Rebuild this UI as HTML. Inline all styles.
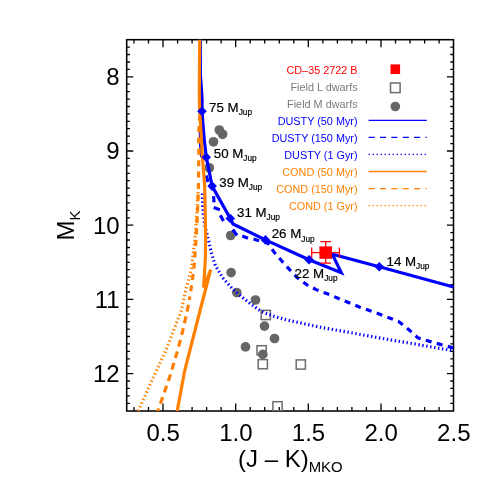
<!DOCTYPE html>
<html lang="en"><head><meta charset="utf-8"><title>CD-35 2722 B color-magnitude diagram</title>
<style>html,body{margin:0;padding:0;background:#fff}body{width:491px;height:491px;overflow:hidden}svg{display:block}text{font-family:"Liberation Sans",Arial,Helvetica,sans-serif}</style></head><body>
<svg width="491" height="491" viewBox="0 0 491 491">
<rect width="491" height="491" fill="#fff"/>
<defs><clipPath id="c"><rect x="126.7" y="39.7" width="326.8" height="371.3"/></clipPath></defs>
<g stroke="#000" fill="none">
<rect x="126.7" y="39.7" width="326.8" height="371.3" stroke-width="1.55"/>
<path d="M134.0 411.0 v-3.9 M134.0 39.7 v3.9 M148.5 411.0 v-3.9 M148.5 39.7 v3.9 M163.0 411.0 v-7.6 M163.0 39.7 v7.6 M177.6 411.0 v-3.9 M177.6 39.7 v3.9 M192.1 411.0 v-3.9 M192.1 39.7 v3.9 M206.6 411.0 v-3.9 M206.6 39.7 v3.9 M221.1 411.0 v-3.9 M221.1 39.7 v3.9 M235.7 411.0 v-7.6 M235.7 39.7 v7.6 M250.2 411.0 v-3.9 M250.2 39.7 v3.9 M264.7 411.0 v-3.9 M264.7 39.7 v3.9 M279.3 411.0 v-3.9 M279.3 39.7 v3.9 M293.8 411.0 v-3.9 M293.8 39.7 v3.9 M308.3 411.0 v-7.6 M308.3 39.7 v7.6 M322.9 411.0 v-3.9 M322.9 39.7 v3.9 M337.4 411.0 v-3.9 M337.4 39.7 v3.9 M351.9 411.0 v-3.9 M351.9 39.7 v3.9 M366.4 411.0 v-3.9 M366.4 39.7 v3.9 M381.0 411.0 v-7.6 M381.0 39.7 v7.6 M395.5 411.0 v-3.9 M395.5 39.7 v3.9 M410.0 411.0 v-3.9 M410.0 39.7 v3.9 M424.6 411.0 v-3.9 M424.6 39.7 v3.9 M439.1 411.0 v-3.9 M439.1 39.7 v3.9 M126.7 47.1 h3.2 M453.5 47.1 h-3.2 M126.7 54.5 h3.2 M453.5 54.5 h-3.2 M126.7 62.0 h3.2 M453.5 62.0 h-3.2 M126.7 69.4 h3.2 M453.5 69.4 h-3.2 M126.7 76.8 h6.6 M453.5 76.8 h-6.6 M126.7 84.2 h3.2 M453.5 84.2 h-3.2 M126.7 91.6 h3.2 M453.5 91.6 h-3.2 M126.7 99.1 h3.2 M453.5 99.1 h-3.2 M126.7 106.5 h3.2 M453.5 106.5 h-3.2 M126.7 113.9 h3.2 M453.5 113.9 h-3.2 M126.7 121.3 h3.2 M453.5 121.3 h-3.2 M126.7 128.7 h3.2 M453.5 128.7 h-3.2 M126.7 136.2 h3.2 M453.5 136.2 h-3.2 M126.7 143.6 h3.2 M453.5 143.6 h-3.2 M126.7 151.0 h6.6 M453.5 151.0 h-6.6 M126.7 158.4 h3.2 M453.5 158.4 h-3.2 M126.7 165.8 h3.2 M453.5 165.8 h-3.2 M126.7 173.3 h3.2 M453.5 173.3 h-3.2 M126.7 180.7 h3.2 M453.5 180.7 h-3.2 M126.7 188.1 h3.2 M453.5 188.1 h-3.2 M126.7 195.5 h3.2 M453.5 195.5 h-3.2 M126.7 202.9 h3.2 M453.5 202.9 h-3.2 M126.7 210.4 h3.2 M453.5 210.4 h-3.2 M126.7 217.8 h3.2 M453.5 217.8 h-3.2 M126.7 225.2 h6.6 M453.5 225.2 h-6.6 M126.7 232.6 h3.2 M453.5 232.6 h-3.2 M126.7 240.0 h3.2 M453.5 240.0 h-3.2 M126.7 247.5 h3.2 M453.5 247.5 h-3.2 M126.7 254.9 h3.2 M453.5 254.9 h-3.2 M126.7 262.3 h3.2 M453.5 262.3 h-3.2 M126.7 269.7 h3.2 M453.5 269.7 h-3.2 M126.7 277.1 h3.2 M453.5 277.1 h-3.2 M126.7 284.6 h3.2 M453.5 284.6 h-3.2 M126.7 292.0 h3.2 M453.5 292.0 h-3.2 M126.7 299.4 h6.6 M453.5 299.4 h-6.6 M126.7 306.8 h3.2 M453.5 306.8 h-3.2 M126.7 314.2 h3.2 M453.5 314.2 h-3.2 M126.7 321.7 h3.2 M453.5 321.7 h-3.2 M126.7 329.1 h3.2 M453.5 329.1 h-3.2 M126.7 336.5 h3.2 M453.5 336.5 h-3.2 M126.7 343.9 h3.2 M453.5 343.9 h-3.2 M126.7 351.3 h3.2 M453.5 351.3 h-3.2 M126.7 358.8 h3.2 M453.5 358.8 h-3.2 M126.7 366.2 h3.2 M453.5 366.2 h-3.2 M126.7 373.6 h6.6 M453.5 373.6 h-6.6 M126.7 381.0 h3.2 M453.5 381.0 h-3.2 M126.7 388.4 h3.2 M453.5 388.4 h-3.2 M126.7 395.9 h3.2 M453.5 395.9 h-3.2 M126.7 403.3 h3.2 M453.5 403.3 h-3.2 " stroke-width="1.3"/>
</g>
<g clip-path="url(#c)">
<g fill="none" stroke="#6c6c6c" stroke-width="1.5">
<rect x="261.2" y="310.4" width="9.2" height="9.2"/>
<rect x="257.0" y="345.7" width="9.2" height="9.2"/>
<rect x="258.2" y="359.6" width="9.2" height="9.2"/>
<rect x="296.2" y="359.9" width="9.2" height="9.2"/>
<rect x="272.9" y="401.7" width="9.2" height="9.2"/>
</g>
<g fill="#666">
<circle cx="219.3" cy="130.0" r="4.85"/>
<circle cx="222.6" cy="134.3" r="4.85"/>
<circle cx="213.5" cy="141.8" r="4.85"/>
<circle cx="209.3" cy="167.8" r="4.85"/>
<circle cx="230.7" cy="235.5" r="4.85"/>
<circle cx="231.1" cy="272.6" r="4.85"/>
<circle cx="236.8" cy="292.6" r="4.85"/>
<circle cx="255.5" cy="300.0" r="4.85"/>
<circle cx="264.5" cy="326.1" r="4.85"/>
<circle cx="274.5" cy="338.5" r="4.85"/>
<circle cx="245.5" cy="346.9" r="4.85"/>
<circle cx="262.8" cy="354.4" r="4.85"/>
</g>
<path d="M200.3 36.0 L200.4 75.0 L201.5 90.0 L202.1 100.0 L202.0 111.3 L203.0 125.0 L204.4 141.3 L206.3 157.3 L212.1 186.1 L230.3 218.5 L233.0 224.0 L265.4 239.9 L309.1 259.7 L341.3 272.8 L332.3 254.3 L379.3 266.7 L456.0 287.6" fill="none" stroke="#0000ff" stroke-width="3.2" stroke-linejoin="miter"/>
<path d="M265.4 240.0 L274.2 252.2 L281.8 261.0 L289.6 269.6 L297.4 277.8 L307.0 284.9 L316.7 289.9 L326.7 293.5 L360.0 307.3 L380.4 314.4 L398.7 321.6 L408.9 329.7 L418.0 337.9 L431.3 341.9 L456.0 348.6" fill="none" stroke="#0000ff" stroke-width="3.2" stroke-linejoin="miter" stroke-dasharray="6 5.4"/>
<path d="M200.3 131.0 L200.6 145.0 L201.6 157.0" fill="none" stroke="#0000ff" stroke-width="3.2" stroke-linejoin="miter"/>
<path d="M206.2 175.5 L208.0 182.0" fill="none" stroke="#0000ff" stroke-width="3.2" stroke-linejoin="miter"/>
<path d="M213.6 196.2 L214.0 202.3" fill="none" stroke="#0000ff" stroke-width="3.2" stroke-linejoin="miter"/>
<path d="M213.7 207.6 L219.9 209.7" fill="none" stroke="#0000ff" stroke-width="3.2" stroke-linejoin="miter"/>
<path d="M220.4 215.2 L223.4 220.9" fill="none" stroke="#0000ff" stroke-width="3.2" stroke-linejoin="miter"/>
<path d="M232.8 229.5 L236.2 234.3 L237.5 234.9" fill="none" stroke="#0000ff" stroke-width="3.2" stroke-linejoin="miter"/>
<path d="M242.3 235.9 L247.9 238.2" fill="none" stroke="#0000ff" stroke-width="3.2" stroke-linejoin="miter"/>
<path d="M253.5 238.9 L259.1 240.8" fill="none" stroke="#0000ff" stroke-width="3.2" stroke-linejoin="miter"/>
<path d="M202.4 193.5 L202.7 205.0 L203.5 215.0 L204.8 225.2 L208.7 241.2 L211.2 252.2 L215.4 265.7 L222.8 277.9 L232.5 288.9 L241.3 296.5 L251.5 304.6 L261.6 311.6 L274.4 316.5 L286.7 319.9 L298.9 322.6 L311.1 325.3 L323.3 327.8 L335.6 330.0 L347.8 332.1 L364.4 335.2 L388.9 339.6 L413.3 343.7 L437.8 348.1 L456.0 351.2" fill="none" stroke="#0000ff" stroke-width="3.2" stroke-linejoin="miter" stroke-dasharray="1.4 2.6"/>
<path d="M199.7 36.0 L199.3 95.0 L199.6 110.0 L200.9 130.0 L202.4 157.0 L204.6 185.0 L205.3 215.0 L205.6 240.0 L205.4 258.0 L203.6 287.5 L210.7 269.6 L200.2 310.0 L184.6 371.1 L177.0 412.0" fill="none" stroke="#ff8000" stroke-width="3.2" stroke-linejoin="miter"/>
<path d="M199.6 117.0 L198.8 130.0 L198.8 155.0 L198.4 190.0 L197.4 215.0 L196.0 240.0 L194.9 254.7 L194.0 268.0 L191.2 288.0 L189.3 300.0" fill="none" stroke="#ff8000" stroke-width="3.2" stroke-linejoin="miter" stroke-dasharray="6 5.4" stroke-dashoffset="2.4"/>
<path d="M189.3 300.0 L187.4 310.0 L182.3 332.5 L177.6 350.7 L169.6 377.2 L157.5 412.0" fill="none" stroke="#ff8000" stroke-width="3.2" stroke-linejoin="miter" stroke-dasharray="7.0 5.0" stroke-dashoffset="-4.8"/>
<path d="M198.0 192.0 L196.8 215.0 L194.8 240.0 L192.6 258.3 L191.0 270.5 L186.3 287.7 L181.3 310.5 L172.6 333.3 L165.7 350.7 L151.5 381.3 L137.7 412.0" fill="none" stroke="#ff8000" stroke-width="3.2" stroke-linejoin="miter" stroke-dasharray="1.4 2.6"/>
</g>
<g fill="#0000ff">
<path d="M202.0 106.5 l4.8 4.8 l-4.8 4.8 l-4.8 -4.8 z"/>
<path d="M206.2 152.5 l4.8 4.8 l-4.8 4.8 l-4.8 -4.8 z"/>
<path d="M212.1 181.3 l4.8 4.8 l-4.8 4.8 l-4.8 -4.8 z"/>
<path d="M230.3 213.7 l4.8 4.8 l-4.8 4.8 l-4.8 -4.8 z"/>
<path d="M265.4 235.1 l4.8 4.8 l-4.8 4.8 l-4.8 -4.8 z"/>
<path d="M309.1 254.9 l4.8 4.8 l-4.8 4.8 l-4.8 -4.8 z"/>
<path d="M379.3 261.9 l4.8 4.8 l-4.8 4.8 l-4.8 -4.8 z"/>
</g>
<g fill="#000" font-size="13.3" stroke="#000" stroke-width="0.2">
<text x="209.1" y="111.5">75 M<tspan font-size="8.3" dy="3.3">Jup</tspan></text>
<text x="213.8" y="157.5">50 M<tspan font-size="8.3" dy="3.3">Jup</tspan></text>
<text x="219.3" y="186.5">39 M<tspan font-size="8.3" dy="3.3">Jup</tspan></text>
<text x="237.0" y="216.9">31 M<tspan font-size="8.3" dy="3.3">Jup</tspan></text>
<text x="271.7" y="238.3">26 M<tspan font-size="8.3" dy="3.3">Jup</tspan></text>
<text x="294.6" y="277.5">22 M<tspan font-size="8.3" dy="3.3">Jup</tspan></text>
<text x="386.5" y="265.9">14 M<tspan font-size="8.3" dy="3.3">Jup</tspan></text>
</g>
<g stroke="#ff0000" stroke-width="1.3" fill="none">
<path d="M311.7 252.6 H339.4 M311.7 247.4 v10.4 M339.4 247.4 v10.4 M325.7 241.7 V263.2 M320.4 241.7 h10.6 M320.4 263.2 h10.6"/>
</g>
<rect x="319.4" y="246.4" width="12.6" height="12.4" fill="#ff0000"/>
<g fill="#000" font-size="24">
<text x="163.2" y="440.6" text-anchor="middle">0.5</text>
<text x="235.9" y="440.6" text-anchor="middle">1.0</text>
<text x="308.5" y="440.6" text-anchor="middle">1.5</text>
<text x="381.2" y="440.6" text-anchor="middle">2.0</text>
<text x="453.8" y="440.6" text-anchor="middle">2.5</text>
<text x="119.6" y="85.2" text-anchor="end">8</text>
<text x="119.6" y="159.4" text-anchor="end">9</text>
<text x="119.6" y="233.6" text-anchor="end">10</text>
<text x="119.6" y="307.8" text-anchor="end">11</text>
<text x="119.6" y="382.0" text-anchor="end">12</text>
<text x="238" y="466.7">(J – K)<tspan font-size="14.9" dy="5.6">MKO</tspan></text>
<text transform="translate(74 240.4) rotate(-90)">M<tspan font-size="14.9" dy="6">K</tspan></text>
</g>
<g font-size="10.85" text-anchor="end">
<text x="357.6" y="73.6" fill="#ff0000">CD–35 2722 B</text>
<text x="357.6" y="90.7" fill="#7a7a7a">Field L dwarfs</text>
<text x="357.6" y="107.7" fill="#7a7a7a">Field M dwarfs</text>
<text x="357.6" y="124.8" fill="#0000ff">DUSTY (50 Myr)</text>
<text x="357.6" y="141.9" fill="#0000ff">DUSTY (150 Myr)</text>
<text x="357.6" y="158.9" fill="#0000ff">DUSTY (1 Gyr)</text>
<text x="357.6" y="176.0" fill="#ff8000">COND (50 Myr)</text>
<text x="357.6" y="193.1" fill="#ff8000">COND (150 Myr)</text>
<text x="357.6" y="210.2" fill="#ff8000">COND (1 Gyr)</text>
</g>
<rect x="390.5" y="64.4" width="9.6" height="9.6" fill="#ff0000"/>
<rect x="390.5" y="83.0" width="9.6" height="9.6" fill="none" stroke="#6c6c6c" stroke-width="1.5"/>
<circle cx="395.3" cy="106.5" r="4.8" fill="#666"/>
<path d="M368.6 120.3 H426.8" stroke="#0000ff" stroke-width="1.3" fill="none"/>
<path d="M368.6 137.4 H426.8" stroke="#0000ff" stroke-width="1.3" fill="none" stroke-dasharray="6 5.4"/>
<path d="M368.6 154.4 H426.8" stroke="#0000ff" stroke-width="1.3" fill="none" stroke-dasharray="1.3 2.7"/>
<path d="M368.6 171.5 H426.8" stroke="#ff8000" stroke-width="1.3" fill="none"/>
<path d="M368.6 188.6 H426.8" stroke="#ff8000" stroke-width="1.3" fill="none" stroke-dasharray="6 5.4"/>
<path d="M368.6 205.7 H426.8" stroke="#ff8000" stroke-width="1.3" fill="none" stroke-dasharray="1.3 2.7"/>
</svg></body></html>
